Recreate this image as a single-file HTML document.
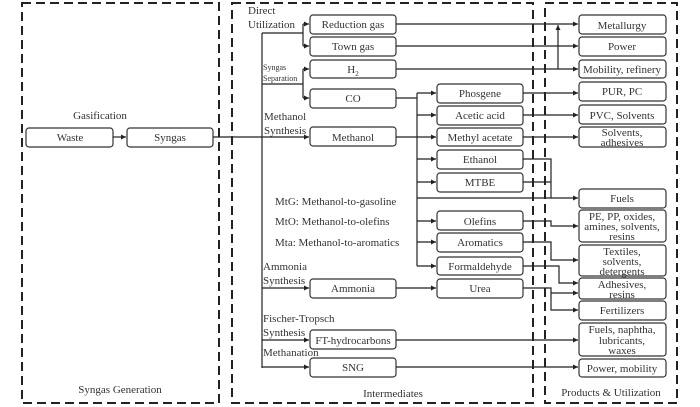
<!DOCTYPE html>
<html><head><meta charset="utf-8"><style>body{margin:0;background:#fff}svg{display:block}text{font-family:"Liberation Serif",serif;fill:#333}</style></head><body>
<svg width="700" height="407" viewBox="0 0 700 407" xmlns="http://www.w3.org/2000/svg">
<defs><marker id="a" markerWidth="6" markerHeight="6" refX="5" refY="3" orient="auto" markerUnits="userSpaceOnUse"><path d="M0,0.5 L5,3 L0,5.5z" fill="#222"/></marker></defs>
<g fill="none" stroke="#222" stroke-width="2" stroke-dasharray="9,5">
<rect x="22" y="3" width="197" height="400"/>
<rect x="232" y="3" width="301" height="400"/>
<rect x="545" y="3" width="132" height="400"/>
</g>
<g fill="#fff" stroke="#333" stroke-width="1.2">
<rect x="26" y="128" width="87" height="19" rx="3"/>
<rect x="127" y="128" width="86" height="19" rx="3"/>
<rect x="310" y="15" width="86" height="19" rx="3"/>
<rect x="310" y="37" width="86" height="19" rx="3"/>
<rect x="310" y="60" width="86" height="18" rx="3"/>
<rect x="310" y="89" width="86" height="19" rx="3"/>
<rect x="310" y="127" width="86" height="19" rx="3"/>
<rect x="310" y="279" width="86" height="19" rx="3"/>
<rect x="310" y="330" width="86" height="19" rx="3"/>
<rect x="310" y="358" width="86" height="19" rx="3"/>
<rect x="437" y="84" width="86" height="19" rx="3"/>
<rect x="437" y="106" width="86" height="19" rx="3"/>
<rect x="437" y="128" width="86" height="18" rx="3"/>
<rect x="437" y="150" width="86" height="19" rx="3"/>
<rect x="437" y="173" width="86" height="19" rx="3"/>
<rect x="437" y="211" width="86" height="19" rx="3"/>
<rect x="437" y="233" width="86" height="19" rx="3"/>
<rect x="437" y="257" width="86" height="18" rx="3"/>
<rect x="437" y="279" width="86" height="19" rx="3"/>
<rect x="579" y="15" width="87" height="19" rx="3"/>
<rect x="579" y="37" width="87" height="19" rx="3"/>
<rect x="579" y="60" width="87" height="18" rx="3"/>
<rect x="579" y="82" width="87" height="19" rx="3"/>
<rect x="579" y="105" width="87" height="19" rx="3"/>
<rect x="579" y="127" width="87" height="20" rx="3"/>
<rect x="579" y="189" width="87" height="19" rx="3"/>
<rect x="579" y="210" width="87" height="32" rx="3"/>
<rect x="579" y="245" width="87" height="31" rx="3"/>
<rect x="579" y="278" width="87" height="21" rx="3"/>
<rect x="579" y="301" width="87" height="19" rx="3"/>
<rect x="579" y="323" width="87" height="33" rx="3"/>
<rect x="579" y="359" width="87" height="18" rx="3"/>
</g>
<g fill="none" stroke="#222" stroke-width="1.2">
<path d="M113,137 H126" marker-end="url(#a)"/>
<path d="M213,137 H309" marker-end="url(#a)"/>
<path d="M262,33 V368"/>
<path d="M262,33 H303"/>
<path d="M303,24 V46"/><path d="M303,24 H309" marker-end="url(#a)"/><path d="M303,46 H309" marker-end="url(#a)"/>
<path d="M262,84 H303"/><path d="M303,69 V98"/><path d="M303,69 H309" marker-end="url(#a)"/><path d="M303,98 H309" marker-end="url(#a)"/>
<path d="M262,288 H309" marker-end="url(#a)"/>
<path d="M262,340 H309" marker-end="url(#a)"/>
<path d="M262,367 H309" marker-end="url(#a)"/>
<path d="M396,98 H417"/><path d="M417,93 V266"/>
<path d="M417,93 H436" marker-end="url(#a)"/><path d="M417,115 H436" marker-end="url(#a)"/>
<path d="M396,137 H436" marker-end="url(#a)"/>
<path d="M417,159 H436" marker-end="url(#a)"/><path d="M417,182 H436" marker-end="url(#a)"/>
<path d="M417,221 H436" marker-end="url(#a)"/><path d="M417,242 H436" marker-end="url(#a)"/><path d="M417,266 H436" marker-end="url(#a)"/>
<path d="M417,198 H578" marker-end="url(#a)"/>
<path d="M396,288 H436" marker-end="url(#a)"/>
<path d="M396,24 H578" marker-end="url(#a)"/>
<path d="M396,46 H578" marker-end="url(#a)"/>
<path d="M396,69 H578" marker-end="url(#a)"/>
<path d="M558,69 V25" marker-end="url(#a)"/>
<path d="M523,93 H578" marker-end="url(#a)"/>
<path d="M523,115 H578" marker-end="url(#a)"/>
<path d="M523,137 H578" marker-end="url(#a)"/>
<path d="M523,159 H551 V198"/><path d="M523,182 H551"/>
<path d="M523,221 H551 V226 H578" marker-end="url(#a)"/>
<path d="M523,242 H551 V260 H578" marker-end="url(#a)"/>
<path d="M523,266 H559 V283 H578" marker-end="url(#a)"/>
<path d="M523,288 H551 V310 H578" marker-end="url(#a)"/>
<path d="M551,293 H578" marker-end="url(#a)"/>
<path d="M396,340 H578" marker-end="url(#a)"/>
<path d="M396,367 H578" marker-end="url(#a)"/>
</g>
<g font-size="11" text-anchor="middle">
<text x="70" y="141">Waste</text><text x="170" y="141">Syngas</text>
<text x="100" y="119">Gasification</text>
<text x="120" y="393">Syngas Generation</text>
<text x="393" y="397">Intermediates</text>
<text x="611" y="396">Products &amp; Utilization</text>
<text x="353" y="28">Reduction gas</text><text x="353" y="50">Town gas</text>
<text x="353" y="73">H<tspan font-size="7" dy="3">2</tspan></text>
<text x="353" y="102">CO</text><text x="353" y="141">Methanol</text>
<text x="353" y="292">Ammonia</text><text x="353" y="344">FT-hydrocarbons</text><text x="353" y="371">SNG</text>
<text x="480" y="97">Phosgene</text><text x="480" y="119">Acetic acid</text><text x="480" y="141">Methyl acetate</text>
<text x="480" y="163">Ethanol</text><text x="480" y="186">MTBE</text><text x="480" y="225">Olefins</text>
<text x="480" y="246">Aromatics</text><text x="480" y="270">Formaldehyde</text><text x="480" y="292">Urea</text>
<text x="622" y="29">Metallurgy</text><text x="622" y="50">Power</text><text x="622" y="73">Mobility, refinery</text>
<text x="622" y="95">PUR, PC</text><text x="622" y="119">PVC, Solvents</text>
<text x="622" y="136">Solvents,</text><text x="622" y="146">adhesives</text>
<text x="622" y="202">Fuels</text>
<text x="622" y="220">PE, PP, oxides,</text><text x="622" y="230">amines, solvents,</text><text x="622" y="240">resins</text>
<text x="622" y="255">Textiles,</text><text x="622" y="265">solvents,</text><text x="622" y="275">detergents</text>
<text x="622" y="288">Adhesives,</text><text x="622" y="298">resins</text>
<text x="622" y="314">Fertilizers</text>
<text x="622" y="333">Fuels, naphtha,</text><text x="622" y="344">lubricants,</text><text x="622" y="354">waxes</text>
<text x="622" y="372">Power, mobility</text>
</g>
<g font-size="11">
<text x="248" y="14">Direct</text><text x="248" y="28">Utilization</text>
<text x="263" y="70" font-size="8">Syngas</text><text x="263" y="81" font-size="8">Separation</text>
<text x="264" y="120">Methanol</text><text x="264" y="134">Synthesis</text>
<text x="275" y="205">MtG: Methanol-to-gasoline</text>
<text x="275" y="225">MtO: Methanol-to-olefins</text>
<text x="275" y="246">Mta: Methanol-to-aromatics</text>
<text x="263" y="270">Ammonia</text><text x="263" y="284">Synthesis</text>
<text x="263" y="322">Fischer-Tropsch</text><text x="263" y="336">Synthesis</text>
<text x="263" y="356">Methanation</text>
</g>
</svg>
</body></html>
